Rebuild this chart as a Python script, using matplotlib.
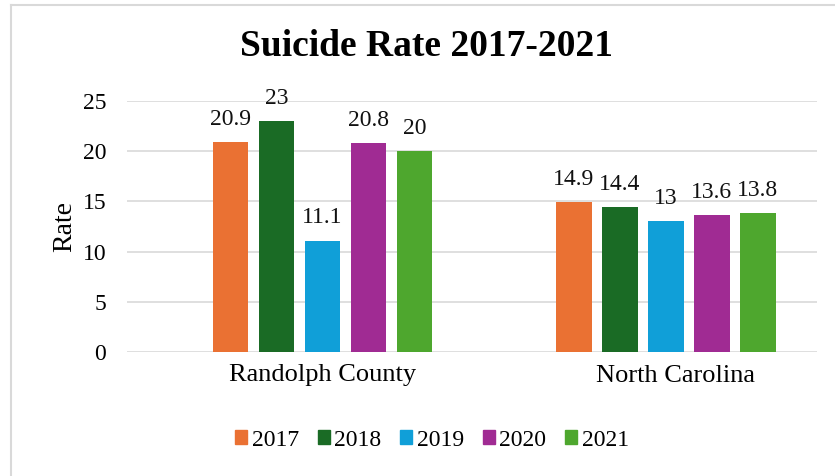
import matplotlib
matplotlib.use("Agg")
import matplotlib.pyplot as plt
import matplotlib.transforms as mtransforms
from matplotlib.lines import Line2D
import numpy as np

categories = ["Randolph County", "North Carolina"]
years = ["2017", "2018", "2019", "2020", "2021"]
values = {
    "2017": [20.9, 14.9],
    "2018": [23, 14.4],
    "2019": [11.1, 13],
    "2020": [20.8, 13.6],
    "2021": [20, 13.8],
}
colors = ["#EA7133", "#1A6B25", "#109FD8", "#A02B93", "#4EA72E"]
yticks = [0, 5, 10, 15, 20, 25]

plt.rcParams['font.family'] = ['Liberation Serif', 'DejaVu Serif']

fig = plt.figure(figsize=(8.35, 4.76), dpi=100)
ax = fig.add_axes([127/835, 1-352/476, (817-127)/835, (352-101)/476])

x = np.arange(len(categories))
w = 0.103
step = 0.134
for i, yr in enumerate(years):
    pos = x + (i - 2) * step
    bars = ax.bar(pos, values[yr], width=w, color=colors[i], label=yr, zorder=3)
    for b, v in zip(bars, values[yr]):
        ax.annotate(f"{v:g}", (b.get_x() + b.get_width()/2, v), xytext=(0, 12.5),
                    textcoords="offset points", ha="center", va="baseline",
                    fontsize=17, color="#111111")

ax.set_ylim(0, 25)
ax.set_xlim(-0.569, 1.44)
ax.set_yticks(yticks)
ax.set_yticklabels([str(t) for t in yticks], fontsize=17)
ax.set_xticks(x)
ax.set_xticklabels(categories, fontsize=19)
ax.tick_params(axis='y', length=0, pad=15)
ax.tick_params(axis='x', length=0, pad=9)
# second category label sits slightly right of its bar group in the reference
lbls = ax.get_xticklabels()
lbls[1].set_transform(lbls[1].get_transform() +
                      mtransforms.ScaledTranslation(10/100, 0, fig.dpi_scale_trans))
ax.yaxis.grid(True, color="#D9D9D9", linewidth=1.2, zorder=0)
for s in ax.spines.values():
    s.set_visible(False)
ax.set_ylabel("Rate", fontsize=20, labelpad=4)

fig.text(427/835, 1-47/476, "Suicide Rate 2017-2021", ha="center", va="center",
         fontsize=27, fontweight="bold")

handles = [plt.Rectangle((0, 0), 1, 1, color=c) for c in colors]
fig.legend(handles, years, loc="center", bbox_to_anchor=(432/835, 1-440/476), ncol=5,
           frameon=False, fontsize=17, handlelength=0.5, handleheight=0.5,
           handletextpad=0.2, columnspacing=0.8)

fig.add_artist(Line2D([11/835, 11/835], [0, 1-5/476], transform=fig.transFigure,
                      color="#D9D9D9", linewidth=1.5))
fig.add_artist(Line2D([11/835, 1], [1-5/476, 1-5/476], transform=fig.transFigure,
                      color="#D9D9D9", linewidth=1.5))

fig.savefig("out.png", dpi=100)
